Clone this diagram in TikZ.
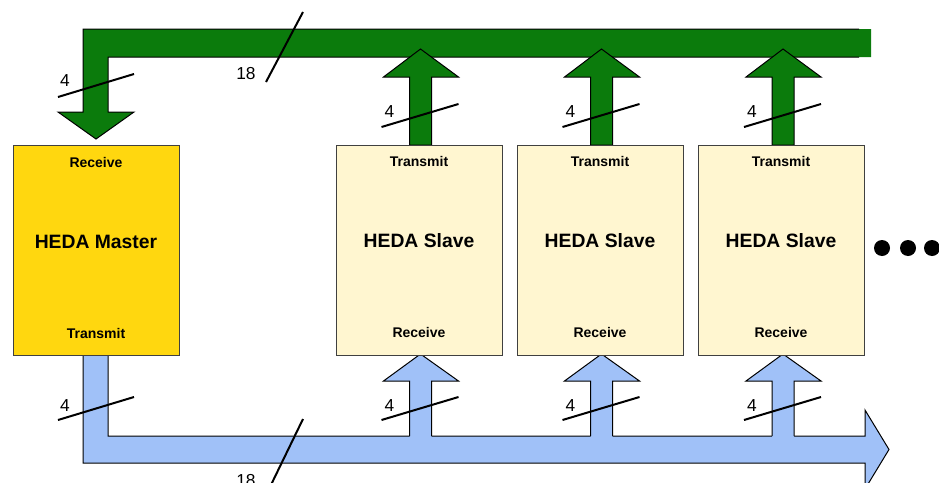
\documentclass[tikz,border=0pt]{standalone}
\usepackage{fontspec}
\setmainfont{Liberation Sans}
\usetikzlibrary{calc}
\definecolor{busgreen}{RGB}{11,123,12}
\definecolor{busblue}{RGB}{160,193,248}
\definecolor{mastery}{RGB}{255,215,15}
\definecolor{slavey}{RGB}{255,246,208}
\begin{document}
\begin{tikzpicture}[x=0.75pt,y=-0.75pt,
  outl/.style={draw=black, line width=0.75pt, line join=miter},
  boxst/.style={draw=black!75, line width=0.75pt, inner sep=0pt, minimum width=124.5pt, minimum height=157.5pt, anchor=north west},
  smalllbl/.style={font=\bfseries\fontsize{10.5}{12}\selectfont, inner sep=0pt},
  biglbl/.style={font=\bfseries\fontsize{14.5}{17}\selectfont, inner sep=0pt},
  numlbl/.style={font=\fontsize{13}{15}\selectfont, inner sep=0pt},
  slash/.style={line width=1.5pt, draw=black}]
\useasboundingbox (0,0) rectangle (939,482);

% green (top) bus with arrow into master
\fill[busgreen] (83,29) -- (871,29) -- (871,57) -- (108,57) -- (108,112) -- (134,112) -- (96,139) -- (58,112) -- (83,112) -- cycle;
\draw[outl] (859,29) -- (83,29) -- (83,112) -- (58,112) -- (96,139) -- (134,112) -- (108,112) -- (108,57) -- (859,57);

% blue (bottom) bus from master
\filldraw[fill=busblue, outl] (83,355) -- (83,463) -- (865,463) -- (865,489) -- (889,449.5) -- (865,410) -- (865,436) -- (108,436) -- (108,355) -- cycle;

% slave arrows
\foreach \a in {420.5,601.5,783} {
  \filldraw[fill=busgreen, outl] ({\a-11},145) -- ({\a-11},77) -- ({\a-37},77) -- (\a,49) -- ({\a+38},77) -- ({\a+11},77) -- ({\a+11},145) -- cycle;
  \fill[busblue] ({\a-11},437) -- ({\a-11},381) -- ({\a-37},381) -- (\a,354) -- ({\a+38},381) -- ({\a+11},381) -- ({\a+11},437) -- cycle;
  \draw[outl] ({\a-11},436) -- ({\a-11},381) -- ({\a-37},381) -- (\a,354) -- ({\a+38},381) -- ({\a+11},381) -- ({\a+11},436);
}

% boxes
\node[boxst, fill=mastery] (m) at (13,145) {};
\node[smalllbl] (mrx) at (96,162) {Receive};
\node[biglbl] (mname) at (96,242) {HEDA Master};
\node[smalllbl] (mtx) at (96,333) {Transmit};
\foreach \i/\x/\c in {1/336/419,2/517/600,3/698/781} {
  \node[boxst, fill=slavey] (s\i) at (\x,145) {};
  \node[smalllbl] (s\i tx) at (\c,161) {Transmit};
  \node[biglbl] (s\i name) at (\c,241) {HEDA Slave};
  \node[smalllbl] (s\i rx) at (\c,332) {Receive};
}

% bus width marks
\draw[slash] (58,97) -- (134,74);
\node[numlbl] (m4a) at (65,81) {4};
\draw[slash] (58,420) -- (134,397);
\node[numlbl] (m4b) at (65,405.5) {4};
\foreach \a in {420.5,601.5,783} {
  \draw[slash] ({\a-39},127) -- ({\a+38},104);
  \node[numlbl] at ({\a-31},111.5) {4};
  \draw[slash] ({\a-39},420) -- ({\a+38},397);
  \node[numlbl] at ({\a-31},405.5) {4};
}
\draw[slash] (266,82) -- (303,12);
\node[numlbl] (t18) at (246,74) {18};
\draw[slash] (269,489) -- (303,419);
\node[numlbl] (b18) at (246,481) {18};

% ellipsis
\foreach \d in {882,908,932} \fill[black] (\d,248) circle[radius=6pt];
\end{tikzpicture}
\end{document}
